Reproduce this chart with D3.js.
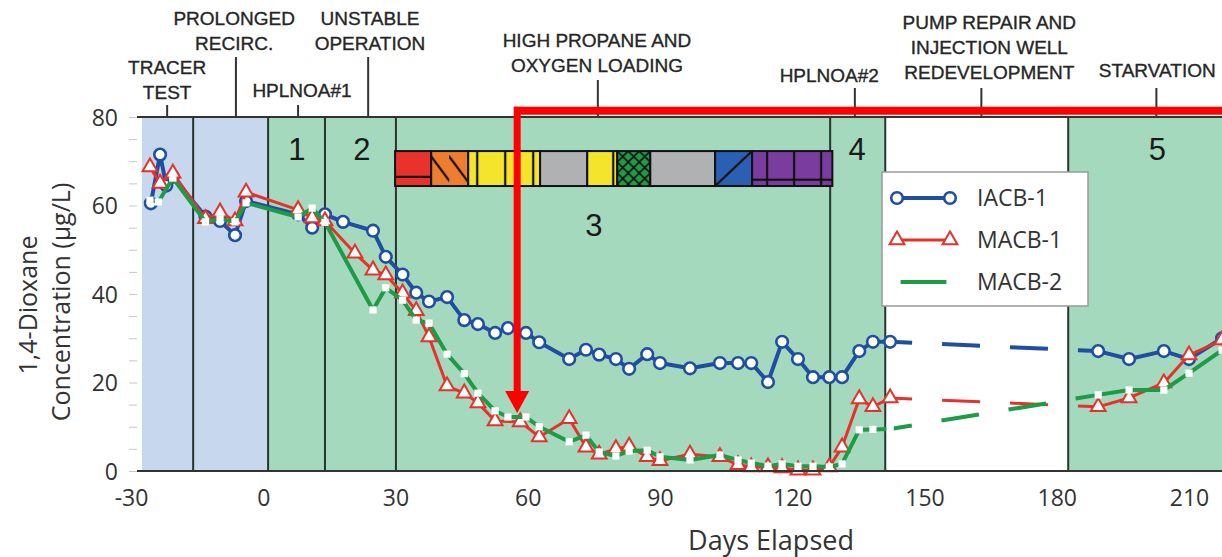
<!DOCTYPE html>
<html>
<head>
<meta charset="utf-8">
<script src="https://cdn.jsdelivr.net/npm/d3@7"></script>
<style>
  body { margin: 0; background: #fff; }
  svg { display: block; }
  .phase { font-family: "Liberation Sans", Arial, sans-serif; font-size: 19px; fill: #262626; stroke: #262626; stroke-width: 0.35px; }
  .num { font-family: "Liberation Sans", Arial, sans-serif; font-size: 31px; fill: #1a1a1a; }
  .tick text { font-family: "Open Sans", sans-serif; font-size: 23px; fill: #333; }
  .lab { font-family: "Open Sans", sans-serif; fill: #333; }
</style>
</head>
<body>
<div id="chart"></div>
<script>
// series (days elapsed, 1,4-dioxane ug/L)
var iacbDays = [-25.5, -23.4, -22.0, -20.5, -13.1, -9.8, -6.4, -3.9, 7.9, 11.1, 14.0, 18.1, 24.9, 27.8, 31.6, 34.7, 37.6,
  41.7, 45.6, 48.7, 52.6, 55.5, 59.6, 62.6, 69.4, 73.2, 76.2, 80.0, 83.0, 87.1, 90.0, 96.8, 103.6, 107.7, 110.7,
  114.5, 117.7, 121.3, 124.7, 128.4, 131.3, 135.2, 138.3, 142.2, 189.4, 196.4, 204.3, 210.0, 217.5];
var iacbVals = [60.5, 71.5, 64.5, 66.5, 57.5, 56.5, 53.3, 61, 58, 55, 58, 56.3, 54.3, 48.4, 44.4, 40.3, 38.3,
  39.3, 34.1, 33.2, 31.2, 32.3, 31.2, 29.1, 25.3, 27.4, 26.3, 25.3, 23.1, 26.4, 24.4, 23.2, 24.4, 24.4, 24.4,
  20.1, 29.2, 25.3, 21.2, 21.2, 21.2, 27.1, 29.2, 29.2, 27.1, 25.3, 27.1, 25.3, 30];

var macb1Days = [-25.7, -23.4, -20.5, -13.1, -9.8, -6.4, -3.9, 7.9, 11.1, 14.0, 20.8, 24.9, 27.8, 31.6, 34.7, 37.6,
  41.7, 45.6, 48.7, 52.6, 58.3, 62.6, 69.4, 73.2, 76.2, 80.0, 83.0, 87.1, 90.0, 96.8, 103.6, 107.7, 110.7,
  114.5, 117.7, 121.3, 124.7, 128.4, 131.3, 135.2, 138.3, 142.2, 189.4, 196.4, 204.3, 210.0, 217.5];
var macb1Vals = [68.7, 65, 67.3, 57, 58.5, 56.5, 63, 59, 57.2, 56.5, 49.2, 45.4, 44.3, 40.2, 36.2, 30.3,
  19.2, 17.6, 15.4, 11.3, 11.1, 7.7, 11.8, 5.4, 3.8, 5.0, 5.6, 3.2, 2.3, 3.8, 3.2, 1.4, 0.9,
  0.9, 0.7, 0.2, 0.2, 0.9, 5.4, 16.3, 14.5, 16.5, 14.5, 16.5, 19.9, 26.2, 29.6];

var macb2Days = [-25.7, -23.8, -20.5, -13.1, -9.8, -6.4, -3.9, 7.9, 11.1, 14.0, 24.9, 27.8, 31.6, 34.7, 37.6,
  41.7, 45.6, 48.7, 52.6, 55.5, 59.6, 62.6, 69.4, 73.2, 76.2, 80.0, 83.0, 87.1, 90.0, 96.8, 103.6, 107.7, 110.7,
  114.5, 117.7, 121.3, 124.7, 128.4, 131.3, 135.2, 138.3, 142.2, 189.4, 196.4, 204.3, 210.0, 217.5];
var macb2Vals = [61.2, 60.8, 66.2, 56.3, 57, 56.3, 60.6, 57.4, 59.4, 56.2, 36.4, 41.4, 38.6, 34.1, 33.4,
  26.4, 22, 17.6, 13.6, 12.2, 12.2, 10, 6.6, 8.1, 4.3, 3.4, 4.5, 4.7, 3.2, 2.5, 3.6, 2.5, 1.8,
  1.1, 1.6, 1.1, 1.1, 0.9, 1.6, 9.3, 9.4, 9.5, 17.2, 18.3, 18.3, 22.1, 27.3];

var seriesNames = ["IACB-1", "MACB-1", "MACB-2"];

// operating periods
var periodStarts = [-27.5, 1.1, 141.1, 182.6];
var periodEnds = [1.1, 141.1, 182.6, 218];
var periodKinds = ["pre", "test", "down", "test"];
var dividerDays = [-15.9, 1.1, 14.0, 30.1, 128.6, 141.1, 182.6];

var phaseNames = [["TRACER", "TEST"], ["PROLONGED", "RECIRC."], ["HPLNOA#1"], ["UNSTABLE", "OPERATION"],
  ["HIGH PROPANE AND", "OXYGEN LOADING"], ["HPLNOA#2"], ["PUMP REPAIR AND", "INJECTION WELL", "REDEVELOPMENT"], ["STARVATION"]];
var phaseTickDays = [-21.8, -6.2, 7.9, 23.8, 75.9, 134.2, 162.9, 202.6];
var phaseLabelDays = [-21.8, -6.6, 8.8, 24.2, 75.7, 128.4, 164.7, 202.8];

var stageNames = ["1", "2", "3", "4", "5"];
var stageDays = [7.6, 22.4, 75.0, 134.7, 202.8];
var stageLevels = [70.3, 70.3, 53.1, 70.3, 70.3];

// propane / oxygen loading bar in stage 3
var loadEdges = [29.9, 38.1, 46.5, 62.8, 73.5, 80.3, 87.8, 102.5, 110.9, 129.1];
var loadColors = ["#e8322b", "#ef7d2e", "#f4e42c", "#b0b1b3", "#f4e42c", "#1f9a48", "#b0b1b3", "#2b5fb4", "#7a3d9f"];
var loadHatch = ["hline", "bslash", "vlines", "none", "vline", "cross", "none", "slash", "grid"];
var loadTop = 72.3, loadBottom = 64.4;

// red annotation
var arrowDay = 57.6, arrowTop = 81.4, arrowTip = 13.1;

var xTicks = [-30, 0, 30, 60, 90, 120, 150, 180, 210];
var yTicks = [0, 20, 40, 60, 80];

// // //

var width = 1222, height = 557;
var svg = d3.select("#chart").append("svg").attr("width", width).attr("height", height);

var x = d3.scaleLinear().domain([-30, 210]).range([131, 1189]);
var y = d3.scaleLinear().domain([0, 80]).range([471, 117]);

var fills = {pre: "#c6d7ee", test: "#a5d9be", down: "#ffffff"};
var darkLine = "#27352d";

svg.selectAll(".period")
  .data(periodStarts)
  .enter().append("rect")
  .attr("class", "period")
  .attr("x", function(d) { return x(d); })
  .attr("width", function(d, i) { return x(periodEnds[i]) - x(d); })
  .attr("y", y(80))
  .attr("height", y(0) - y(80))
  .attr("fill", function(d, i) { return fills[periodKinds[i]]; });

svg.selectAll(".divider")
  .data(dividerDays)
  .enter().append("line")
  .attr("x1", function(d) { return x(d); }).attr("x2", function(d) { return x(d); })
  .attr("y1", y(80)).attr("y2", y(0))
  .attr("stroke", darkLine).attr("stroke-width", 2);

// hatch patterns for loading bar
var defs = svg.append("defs");
var barY = y(loadTop), barH = y(loadBottom) - y(loadTop);

function makePattern(i) {
  var kind = loadHatch[i], color = loadColors[i];
  var sizes = {hline: [40, barH], bslash: [18, barH], vlines: [28, barH], none: [10, 10], vline: [30, barH],
               cross: [11, 11], slash: [37, barH], grid: [27, barH]};
  var s = sizes[kind];
  var p = defs.append("pattern").attr("id", "load" + i)
    .attr("patternUnits", "userSpaceOnUse")
    .attr("x", x(loadEdges[i])).attr("y", barY)
    .attr("width", s[0]).attr("height", s[1]);
  p.append("rect").attr("width", s[0]).attr("height", s[1]).attr("fill", color);
  var g = p.append("g").attr("stroke", "#111").attr("stroke-width", 2.2);
  if (kind == "hline") g.append("line").attr("x1", 0).attr("x2", s[0]).attr("y1", barH * 0.74).attr("y2", barH * 0.74);
  if (kind == "bslash") g.append("line").attr("x1", -4).attr("y1", 0).attr("x2", 22).attr("y2", barH);
  if (kind == "vlines") g.append("line").attr("x1", 9).attr("x2", 9).attr("y1", 0).attr("y2", s[1]);
  if (kind == "vline") g.append("line").attr("x1", 26).attr("x2", 26).attr("y1", 0).attr("y2", s[1]);
  if (kind == "cross") {
    g.attr("stroke-width", 1.6);
    g.append("line").attr("x1", 0).attr("y1", 0).attr("x2", 11).attr("y2", 11);
    g.append("line").attr("x1", 11).attr("y1", 0).attr("x2", 0).attr("y2", 11);
  }
  if (kind == "slash") g.append("line").attr("x1", 0).attr("y1", s[1]).attr("x2", s[0]).attr("y2", 0);
  if (kind == "grid") {
    g.append("line").attr("x1", 15).attr("x2", 15).attr("y1", 0).attr("y2", s[1]);
    g.append("line").attr("x1", 0).attr("x2", s[0]).attr("y1", barH * 0.82).attr("y2", barH * 0.82);
  }
}
loadColors.forEach(function(c, i) { makePattern(i); });

svg.selectAll(".load")
  .data(loadColors)
  .enter().append("rect")
  .attr("class", "load")
  .attr("x", function(d, i) { return x(loadEdges[i]); })
  .attr("width", function(d, i) { return x(loadEdges[i + 1]) - x(loadEdges[i]); })
  .attr("y", barY).attr("height", barH)
  .attr("fill", function(d, i) { return "url(#load" + i + ")"; })
  .attr("stroke", "#111").attr("stroke-width", 2);

svg.selectAll(".num")
  .data(stageNames)
  .enter().append("text")
  .attr("class", "num")
  .attr("x", function(d, i) { return x(stageDays[i]); })
  .attr("y", function(d, i) { return y(stageLevels[i]); })
  .attr("text-anchor", "middle")
  .text(function(d) { return d; });

// series
function pack(days, vals) {
  return days.map(function(d, i) { return {day: d, v: vals[i]}; });
}
var series = [
  {name: seriesNames[0], data: pack(iacbDays, iacbVals), color: "#1f4ea2", width: 4, mark: "circle"},
  {name: seriesNames[1], data: pack(macb1Days, macb1Vals), color: "#e5322c", width: 3, mark: "triangle"},
  {name: seriesNames[2], data: pack(macb2Days, macb2Vals), color: "#1f9a47", width: 4, mark: "square"}
];

var line = d3.line().x(function(d) { return x(d.day); }).y(function(d) { return y(d.v); });

function drawMarks(g, s, pts) {
  if (s.mark == "circle") {
    g.selectAll("circle").data(pts).enter().append("circle")
      .attr("cx", function(d) { return x(d.day); }).attr("cy", function(d) { return y(d.v); })
      .attr("r", 5.8).attr("fill", "#fff").attr("stroke", s.color).attr("stroke-width", 2.6);
  } else {
    var sym = s.mark == "triangle" ? d3.symbol().type(d3.symbolTriangle).size(95) : d3.symbol().type(d3.symbolSquare).size(52);
    g.selectAll("path.mk").data(pts).enter().append("path").attr("class", "mk")
      .attr("transform", function(d) { return "translate(" + x(d.day) + "," + y(d.v) + ")"; })
      .attr("d", sym)
      .attr("fill", "#fff")
      .attr("stroke", s.mark == "triangle" ? s.color : "none")
      .attr("stroke-width", 2);
  }
}

series.forEach(function(s) {
  var g = svg.append("g");
  // split where sampling stopped (pump repair)
  var parts = [[]], bridges = [];
  s.data.forEach(function(d, i) {
    if (i > 0 && d.day - s.data[i - 1].day > 30) {
      bridges.push([s.data[i - 1], d]);
      parts.push([]);
    }
    parts[parts.length - 1].push(d);
  });
  parts.forEach(function(p) {
    g.append("path").attr("d", line(p)).attr("fill", "none")
      .attr("stroke", s.color).attr("stroke-width", s.width).attr("stroke-linejoin", "round");
  });
  bridges.forEach(function(b) {
    g.append("path").attr("d", line(b)).attr("fill", "none")
      .attr("stroke", s.color).attr("stroke-width", s.width)
      .attr("stroke-dasharray", "38,30").attr("stroke-dashoffset", 16);
  });
  drawMarks(g, s, s.data);
});

// legend
var legend = svg.append("g").attr("transform", "translate(882,172)");
legend.append("rect").attr("width", 206).attr("height", 134)
  .attr("fill", "#fff").attr("stroke", "#9a9a9a").attr("stroke-width", 1.5);
series.forEach(function(s, i) {
  var ly = 26 + i * 42;
  legend.append("line").attr("x1", 15).attr("x2", 68).attr("y1", ly).attr("y2", ly)
    .attr("stroke", s.color).attr("stroke-width", s.width);
  var ends = [{day: x.invert(882 + 15), v: y.invert(172 + ly)}, {day: x.invert(882 + 68), v: y.invert(172 + ly)}];
  drawMarks(svg.append("g"), s, ends);
  legend.append("text").attr("class", "lab").attr("x", 95).attr("y", ly + 8)
    .style("font-size", "23px").text(s.name);
});

// frame lines
svg.append("line").attr("x1", 137).attr("x2", width).attr("y1", y(80)).attr("y2", y(80))
  .attr("stroke", "#333").attr("stroke-width", 2);
svg.append("line").attr("x1", 137).attr("x2", width).attr("y1", y(0)).attr("y2", y(0))
  .attr("stroke", "#333").attr("stroke-width", 2);

// axes
var minor = svg.append("g").attr("transform", "translate(137,0)")
  .call(d3.axisLeft(y).tickValues(d3.range(0, 81, 5)).tickSize(8).tickFormat(""));
minor.select(".domain").remove();
minor.selectAll("line").attr("stroke", "#c8c8c8");

var yAxis = svg.append("g").attr("transform", "translate(118,0)")
  .call(d3.axisLeft(y).tickValues(yTicks).tickSize(0).tickPadding(0));
yAxis.select(".domain").remove();
yAxis.selectAll("text").attr("dy", "0.36em");

var xAxis = svg.append("g").attr("transform", "translate(0," + y(0) + ")")
  .call(d3.axisBottom(x).tickValues(xTicks).tickSize(0).tickPadding(19)
    .tickFormat(function(d) { return String(d); }));
xAxis.select(".domain").remove();

svg.append("text").attr("class", "lab").attr("x", 771).attr("y", 550)
  .attr("text-anchor", "middle").style("font-size", "27px").text("Days Elapsed");

svg.append("text").attr("class", "lab")
  .attr("transform", "translate(37,305) rotate(-90)")
  .attr("text-anchor", "middle").style("font-size", "25px").text("1,4-Dioxane");
svg.append("text").attr("class", "lab")
  .attr("transform", "translate(70,302) rotate(-90)")
  .attr("text-anchor", "middle").style("font-size", "25px").text("Concentration (\u00b5g/L)");

// phase labels above the plot
var lastBaseline = [99, 50, 97, 50, 72, 82, 79, 77];
var tickTop = [105, 57, 105, 57, 80, 88, 88, 88];

svg.selectAll(".phaseTick")
  .data(phaseTickDays)
  .enter().append("line")
  .attr("x1", function(d) { return x(d); }).attr("x2", function(d) { return x(d); })
  .attr("y1", function(d, i) { return tickTop[i]; }).attr("y2", y(80))
  .attr("stroke", "#333").attr("stroke-width", 2);

svg.selectAll(".phase")
  .data(phaseNames)
  .enter().append("text")
  .attr("class", "phase")
  .attr("text-anchor", "middle")
  .each(function(lines, i) {
    var t = d3.select(this);
    lines.forEach(function(l, j) {
      t.append("tspan")
        .attr("x", x(phaseLabelDays[i]))
        .attr("y", lastBaseline[i] - (lines.length - 1 - j) * 25)
        .text(l);
    });
  });

// red highlight
var red = svg.append("g");
red.append("line").attr("x1", x(arrowDay) - 3).attr("x2", width)
  .attr("y1", y(arrowTop)).attr("y2", y(arrowTop))
  .attr("stroke", "#ff0000").attr("stroke-width", 8);
red.append("line").attr("x1", x(arrowDay)).attr("x2", x(arrowDay))
  .attr("y1", y(arrowTop) - 4).attr("y2", y(arrowTip) - 20)
  .attr("stroke", "#ff0000").attr("stroke-width", 7);
red.append("path")
  .attr("d", "M" + (x(arrowDay) - 12) + "," + (y(arrowTip) - 22) + "L" + (x(arrowDay) + 12) + "," + (y(arrowTip) - 22) +
    "L" + x(arrowDay) + "," + y(arrowTip) + "Z")
  .attr("fill", "#ff0000");
</script>
</body>
</html>
